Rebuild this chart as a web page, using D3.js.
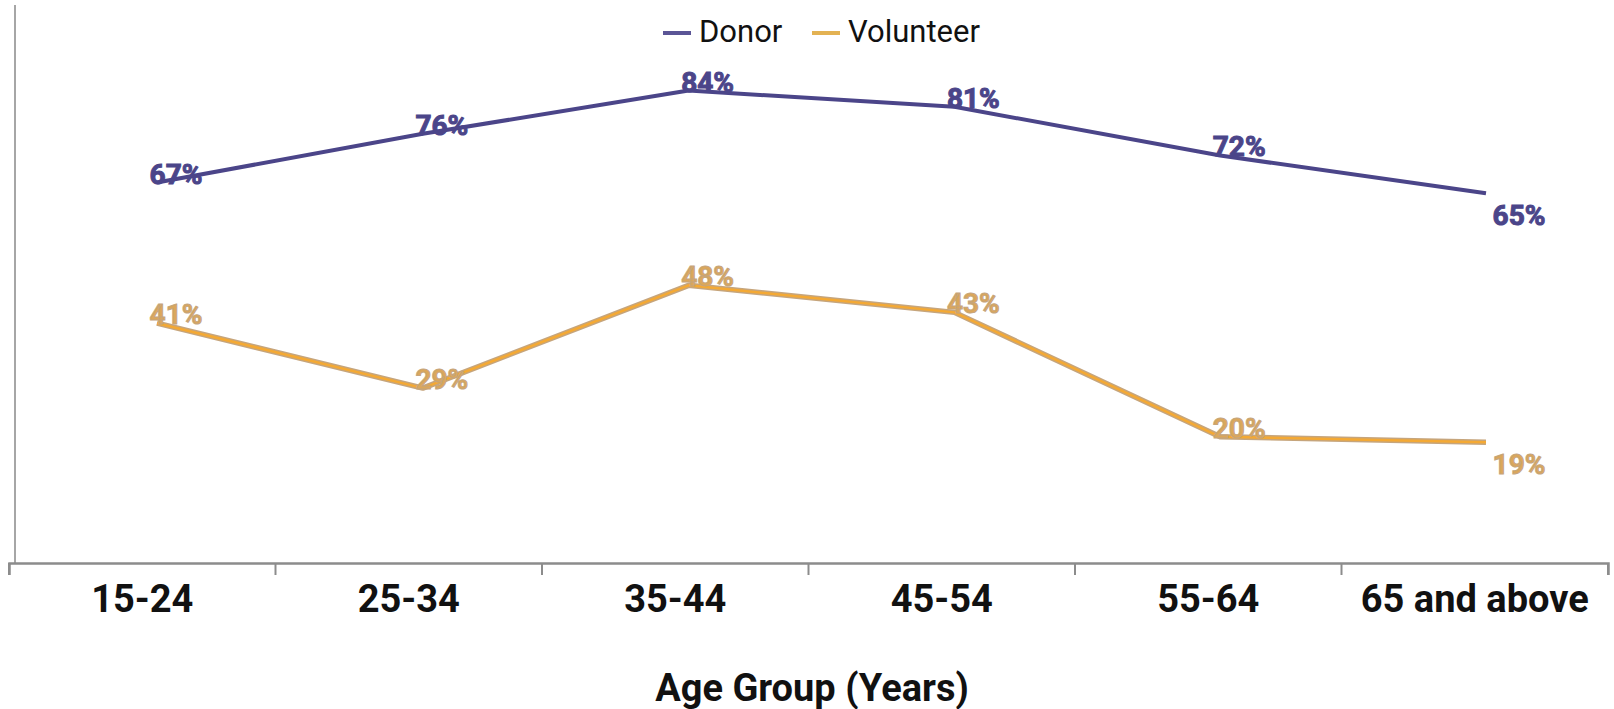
<!DOCTYPE html>
<html>
<head>
<meta charset="utf-8">
<script src="https://cdn.jsdelivr.net/npm/d3@7"></script>
<style>
  html, body { margin: 0; padding: 0; background: #fff; }
  svg { display: block; font-family: Roboto, "Noto Sans", sans-serif; }
</style>
</head>
<body>
<svg id="chart" width="1614" height="709"></svg>
<script>
// Share of each age group that donates / volunteers (%)
const ageGroups = ["15-24", "25-34", "35-44", "45-54", "55-64", "65 and above"];
const donor = [67, 76, 84, 81, 72, 65];
const volunteer = [41, 29, 48, 43, 20, 19];
const seriesNames = ["Donor", "Volunteer"];
const axisTitle = "Age Group (Years)";

const svg = d3.select("#chart");

const donorColor = "#4b4589";
const volColor = "#f4a934";
const volEdge = "#c6a57c";

// Category axis spans the full width; markers sit on a point scale
const xBand = d3.scaleBand().domain(ageGroups).range([9, 1608]).paddingInner(0).paddingOuter(0);
const xPoint = d3.scalePoint().domain(ageGroups).range([157, 1486]);
const y = d3.scaleLinear().domain([0, 100]).range([545, 4]);
const axisY = 563;

// Vertical axis line
svg.append("line")
  .attr("x1", 15).attr("x2", 15).attr("y1", 5).attr("y2", axisY)
  .attr("stroke", "#a6a6a6").attr("stroke-width", 2);

// Horizontal category axis (labels centred in each band)
const xAxis = d3.axisBottom(xBand).tickSize(12).tickSizeOuter(12).tickPadding(8).tickFormat(d => d);
const gx = svg.append("g").attr("transform", `translate(0,${axisY})`).call(xAxis);
gx.select(".domain").attr("stroke", "#8c8c8c").attr("stroke-width", 2.5);
gx.selectAll(".tick line").remove();
// tick marks on band boundaries
const bounds = ageGroups.map(d => xBand(d)).concat([xBand.range()[1]]);
gx.selectAll(".bound").data(bounds).join("line")
  .attr("class", "bound")
  .attr("x1", d => d).attr("x2", d => d)
  .attr("y1", 0).attr("y2", 12)
  .attr("stroke", "#8c8c8c").attr("stroke-width", 2);
gx.selectAll(".tick text")
  .attr("y", 49).attr("dy", 0)
  .attr("font-family", "Roboto, sans-serif")
  .attr("font-weight", 700)
  .attr("font-size", 38)
  .attr("fill", "#111");

// Axis title
svg.append("text")
  .attr("x", 812).attr("y", 701)
  .attr("text-anchor", "middle")
  .attr("font-weight", 700).attr("font-size", 38)
  .attr("fill", "#111")
  .text(axisTitle);

const line = d3.line().x((d, i) => xPoint(ageGroups[i])).y(d => y(d));

// Donor series
svg.append("path").datum(donor)
  .attr("d", line).attr("fill", "none")
  .attr("stroke", donorColor).attr("stroke-width", 4)
  .attr("stroke-linejoin", "round");

// Volunteer series: tan edge under an orange core
svg.append("path").datum(volunteer)
  .attr("d", line).attr("fill", "none")
  .attr("stroke", volEdge).attr("stroke-width", 5.5)
  .attr("stroke-linejoin", "round");
svg.append("path").datum(volunteer)
  .attr("d", line).attr("fill", "none")
  .attr("stroke", volColor).attr("stroke-width", 2.5)
  .attr("stroke-linejoin", "round");

// Data labels, sitting on the line at each point (last one below-right)
function labels(values, fill, stroke, cls) {
  const last = values.length - 1;
  svg.selectAll("." + cls).data(values).join("text")
    .attr("class", cls)
    .attr("x", (d, i) => xPoint(ageGroups[i]) + (i === last ? 33 : 19))
    .attr("y", (d, i) => y(d) + (i === last ? 32 : 1))
    .attr("text-anchor", "middle")
    .attr("font-weight", 700).attr("font-size", 28)
    .attr("fill", fill)
    .attr("stroke", stroke).attr("stroke-width", 1)
    .text(d => d + "%");
}
labels(donor, donorColor, donorColor, "dl");
labels(volunteer, "#dba75b", volEdge, "vl");

// Legend
const legend = [
  { name: seriesNames[0], x: 663, color: "#5b5596" },
  { name: seriesNames[1], x: 812, color: "#e3b253" }
];
const lg = svg.selectAll(".legend").data(legend).join("g")
  .attr("class", "legend")
  .attr("transform", d => `translate(${d.x},0)`);
lg.append("line")
  .attr("x1", 0).attr("x2", 28).attr("y1", 33).attr("y2", 33)
  .attr("stroke", d => d.color).attr("stroke-width", 4);
lg.append("text")
  .attr("x", 36).attr("y", 42)
  .attr("font-size", 31).attr("fill", "#111")
  .text(d => d.name);
</script>
</body>
</html>
